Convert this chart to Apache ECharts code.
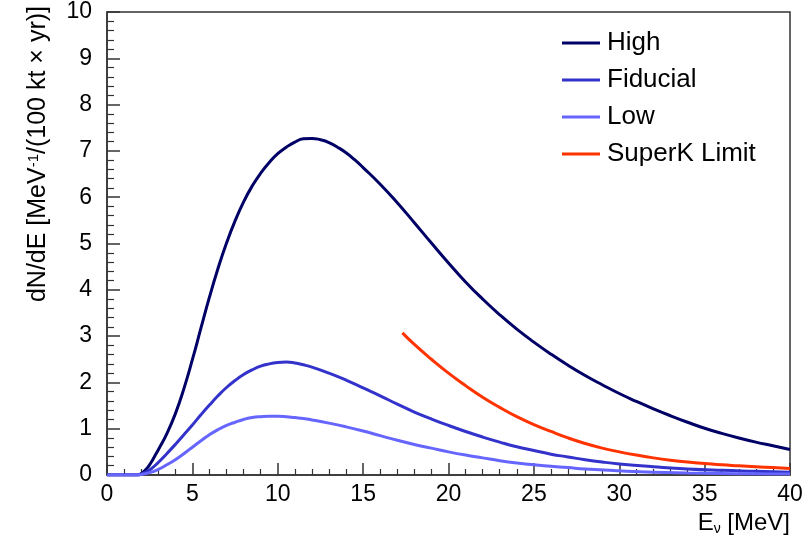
<!DOCTYPE html>
<html>
<head>
<meta charset="utf-8">
<script src="https://cdn.jsdelivr.net/npm/echarts@6/dist/echarts.min.js"></script>
<style>
  html, body { margin: 0; padding: 0; background: #fff; }
  #chart { width: 810px; height: 543px; }
</style>
</head>
<body>
<div id="chart"></div>
<script>
// Neutrino energy spectra, dN/dE per 100 kt-year
const highE = [0, 1, 1.8, 2, 2.2, 2.4, 2.6, 2.8, 3, 3.5, 4, 4.5, 5, 5.5, 6, 6.5, 7, 7.5, 8, 8.5, 9, 9.5, 10, 10.5, 11, 11.5, 12, 12.5, 13, 13.5, 14, 14.5, 15, 16, 17, 18, 19, 20, 21, 22, 23, 24, 25, 26, 27, 28, 29, 30, 31, 32, 33, 34, 35, 36, 37, 38, 39, 40];
const highN = [0, 0, 0, 0.03, 0.09, 0.17, 0.28, 0.41, 0.54, 0.89, 1.32, 1.86, 2.49, 3.17, 3.84, 4.46, 5.01, 5.49, 5.9, 6.24, 6.52, 6.75, 6.94, 7.08, 7.19, 7.26, 7.27, 7.24, 7.18, 7.08, 6.96, 6.81, 6.64, 6.28, 5.88, 5.45, 5.01, 4.58, 4.17, 3.8, 3.46, 3.15, 2.87, 2.61, 2.37, 2.15, 1.95, 1.76, 1.59, 1.43, 1.28, 1.14, 1.01, 0.9, 0.8, 0.71, 0.63, 0.55];

const fidE = [0, 1, 1.8, 2, 2.5, 3, 3.5, 4, 4.5, 5, 5.5, 6, 6.5, 7, 7.5, 8, 8.5, 9, 9.5, 10, 10.5, 11, 11.5, 12, 13, 14, 15, 16, 17, 18, 19, 20, 21, 22, 23, 24, 25, 26, 27, 28, 29, 30, 32, 34, 36, 38, 40];
const fidN = [0, 0, 0, 0.02, 0.11, 0.27, 0.46, 0.66, 0.87, 1.08, 1.3, 1.51, 1.71, 1.89, 2.04, 2.17, 2.27, 2.35, 2.4, 2.43, 2.44, 2.42, 2.38, 2.33, 2.2, 2.05, 1.88, 1.71, 1.53, 1.36, 1.21, 1.07, 0.94, 0.82, 0.71, 0.61, 0.53, 0.45, 0.39, 0.33, 0.28, 0.24, 0.18, 0.13, 0.1, 0.08, 0.06];

const lowE = [0, 1, 1.8, 2, 2.5, 3, 3.5, 4, 4.5, 5, 5.5, 6, 6.5, 7, 7.5, 8, 8.5, 9, 9.5, 10, 10.5, 11, 11.5, 12, 13, 14, 15, 16, 17, 18, 19, 20, 21, 22, 23, 24, 25, 26, 27, 28, 30, 32, 34, 36, 38, 40];
const lowN = [0, 0, 0, 0.01, 0.05, 0.12, 0.22, 0.33, 0.46, 0.6, 0.74, 0.87, 0.98, 1.07, 1.14, 1.2, 1.24, 1.26, 1.27, 1.27, 1.26, 1.24, 1.22, 1.19, 1.12, 1.04, 0.95, 0.85, 0.75, 0.66, 0.58, 0.5, 0.43, 0.37, 0.31, 0.26, 0.22, 0.19, 0.16, 0.13, 0.09, 0.06, 0.045, 0.035, 0.025, 0.02];

const skE = [17.3, 18, 19, 20, 21, 22, 23, 24, 25, 26, 27, 28, 29, 30, 31, 32, 33, 34, 35, 36, 37, 38, 39, 40];
const skN = [3.07, 2.82, 2.5, 2.2, 1.93, 1.68, 1.46, 1.26, 1.09, 0.94, 0.8, 0.68, 0.58, 0.5, 0.43, 0.37, 0.32, 0.28, 0.25, 0.22, 0.2, 0.18, 0.16, 0.14];

const seriesNames = ['High', 'Fiducial', 'Low', 'SuperK Limit'];
const seriesColors = ['#000066', '#3333cc', '#6666ff', '#ff3300'];

const xTicks = { min: 0, max: 40, interval: 5 };
const yTicks = { min: 0, max: 10, interval: 1 };

const FONT = '"Liberation Sans", Arial, Helvetica, sans-serif';

function pairs(xs, ys) {
  return xs.map((x, i) => [x, ys[i]]);
}

function lineSeries(idx, xs, ys) {
  return {
    name: seriesNames[idx],
    type: 'line',
    data: pairs(xs, ys),
    smooth: 0.5,
    symbol: 'none',
    showSymbol: false,
    clip: true,
    lineStyle: { color: seriesColors[idx], width: 3 },
    itemStyle: { color: seriesColors[idx] },
    emphasis: { disabled: true }
  };
}

const chart = echarts.init(document.getElementById('chart'), null, { renderer: 'canvas' });

chart.setOption({
  animation: false,
  backgroundColor: '#ffffff',
  textStyle: { fontFamily: FONT },
  grid: {
    left: 107, right: 20, top: 12, bottom: 68,
    containLabel: false,
    show: true,
    borderColor: '#333',
    borderWidth: 1.5,
    backgroundColor: 'transparent'
  },
  legend: {
    orient: 'vertical',
    left: 562,
    top: 30,
    padding: 0,
    icon: 'rect',
    itemWidth: 38,
    itemHeight: 3,
    itemGap: 11,
    data: seriesNames,
    textStyle: { fontSize: 26, color: '#000', fontFamily: FONT, lineHeight: 26, padding: [0, 0, 0, 2] }
  },
  xAxis: {
    type: 'value',
    min: xTicks.min,
    max: xTicks.max,
    interval: xTicks.interval,
    name: 'E{sub|ν} [MeV]',
    nameLocation: 'end',
    nameGap: 0,
    nameMoveOverlap: false,
    nameTextStyle: {
      fontSize: 24, color: '#000', fontFamily: FONT,
      align: 'right', verticalAlign: 'top', padding: [35, 0, 0, 0],
      rich: { sub: { fontSize: 14, verticalAlign: 'bottom', padding: [12, 0, 0, 0], fontFamily: FONT, color: '#000' } }
    },
    axisLine: { show: true, onZero: false, lineStyle: { color: '#333', width: 1.5 } },
    axisTick: { show: true, inside: true, length: 12, lineStyle: { color: '#333', width: 1.5 } },
    minorTick: { show: true, splitNumber: 5, length: 6, lineStyle: { color: '#333', width: 1.2 } },
    axisLabel: { fontSize: 23, color: '#000', margin: 8, fontFamily: FONT },
    splitLine: { show: false }
  },
  yAxis: {
    type: 'value',
    min: yTicks.min,
    max: yTicks.max,
    interval: yTicks.interval,
    name: 'dN/dE [MeV{sup|-1}/(100 kt × yr)]',
    nameLocation: 'end',
    nameRotate: 90,
    nameGap: 6,
    nameMoveOverlap: false,
    nameTextStyle: {
      fontSize: 25, color: '#000', fontFamily: FONT,
      align: 'right', verticalAlign: 'bottom', padding: [0, 0, 56, 0],
      rich: { sup: { fontSize: 15, verticalAlign: 'top', fontFamily: FONT, color: '#000' } }
    },
    axisLine: { show: true, onZero: false, lineStyle: { color: '#333', width: 1.5 } },
    axisTick: { show: true, inside: true, length: 13, lineStyle: { color: '#333', width: 1.5 } },
    minorTick: { show: true, splitNumber: 5, length: 7, lineStyle: { color: '#333', width: 1.2 } },
    axisLabel: { fontSize: 23, color: '#000', margin: 15, fontFamily: FONT },
    splitLine: { show: false }
  },
  series: [
    lineSeries(0, highE, highN),
    lineSeries(1, fidE, fidN),
    lineSeries(2, lowE, lowN),
    lineSeries(3, skE, skN)
  ]
});
</script>
</body>
</html>
